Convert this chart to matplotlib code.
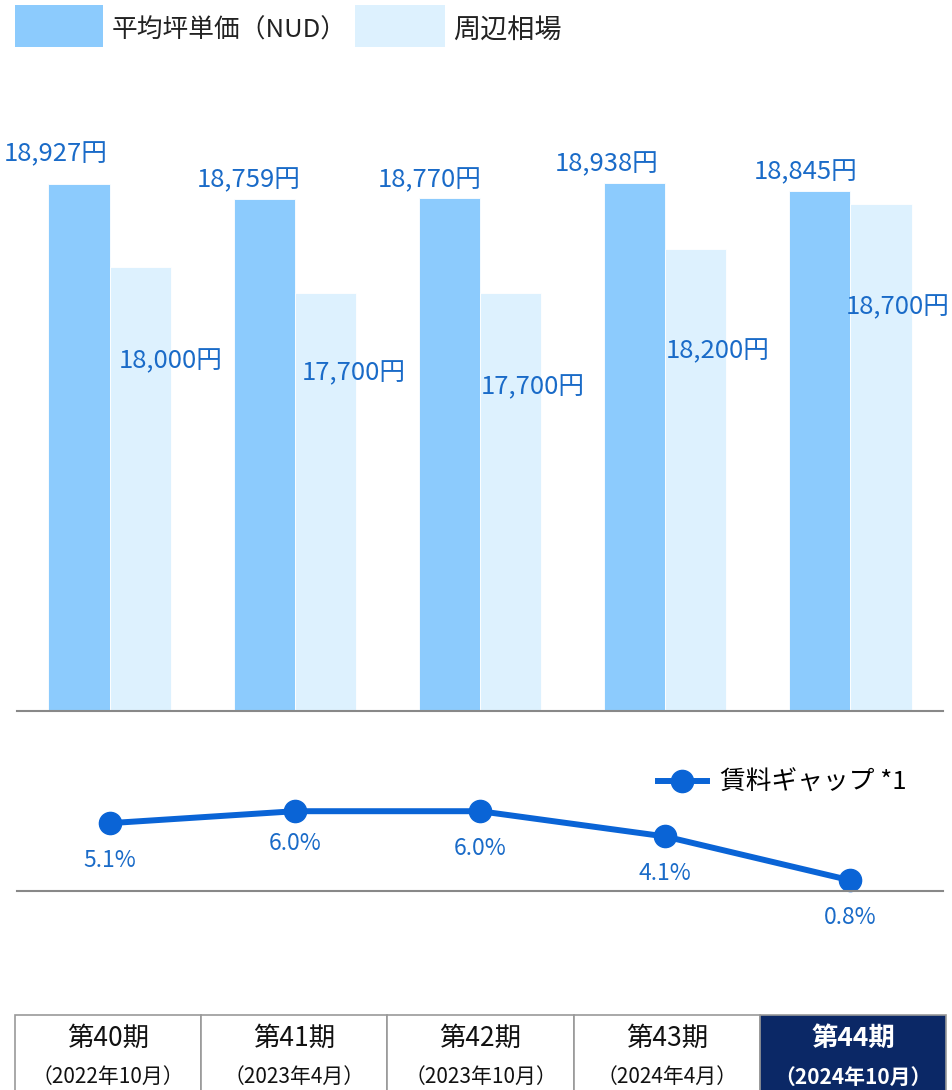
import matplotlib
matplotlib.use("Agg")
import matplotlib.pyplot as plt
from matplotlib.patches import Rectangle
import numpy as np

plt.rcParams['font.family'] = ['Noto Sans CJK JP', 'DejaVu Sans']

# data
periods = ["第40期", "第41期", "第42期", "第43期", "第44期"]
dates = ["（2022年10月）", "（2023年4月）", "（2023年10月）", "（2024年4月）", "（2024年10月）"]
nud_price = [18927, 18759, 18770, 18938, 18845]
market_price = [18000, 17700, 17700, 18200, 18700]
rent_gap = [5.1, 6.0, 6.0, 4.1, 0.8]

DARK = "#8ccbfd"
LIGHT = "#ddf1fe"
LABEL_BLUE = "#1a6bc8"
LINE_BLUE = "#0a64d6"
NAVY = "#0b2866"
W, H = 952, 1090

fig = plt.figure(figsize=(W / 100, H / 100), dpi=100)

def fx(px):
    return px / W

def fy(py):
    return 1 - py / H

x = np.arange(len(periods))
bw = 0.33

# label nudges (points), as laid out in the original
nud_off = [(-16.5, 21.5), (-11, 13.7), (-14.4, 13), (-20, 13.7), (-10, 13.7)]
mkt_off = [(0, -68), (-1.5, -58), (-6, -68), (-6.5, -74), (-10, -74)]
gap_off = [-27, -23, -27, -27, -27]

# bar chart
ax = fig.add_axes([fx(17), fy(711), fx(926), fy(130) - fy(711)])
ax.bar(x - bw / 2, nud_price, width=bw, color=DARK, edgecolor="white", linewidth=0.6)
ax.bar(x + bw / 2, market_price, width=bw, color=LIGHT, edgecolor="white", linewidth=0.6)
ax.set_xlim(-0.5, 4.5)
ax.set_ylim(13000, 19536)
for s in ["top", "right", "left"]:
    ax.spines[s].set_visible(False)
ax.spines["bottom"].set_color("#888888")
ax.spines["bottom"].set_linewidth(1.5)
ax.set_xticks([])
ax.set_yticks([])

for i, v in enumerate(nud_price):
    ax.annotate(f"{v:,}円", (i - bw / 2, v), xytext=nud_off[i], textcoords="offset points",
                ha="center", va="center", fontsize=18.5, color=LABEL_BLUE)
for i, v in enumerate(market_price):
    ax.annotate(f"{v:,}円", (i + bw, v), xytext=mkt_off[i], textcoords="offset points",
                ha="center", va="center", fontsize=18.5, color=LABEL_BLUE)

# legend for bars
fig.add_artist(Rectangle((fx(15), fy(47)), fx(88), fy(5) - fy(47), transform=fig.transFigure,
                         color=DARK, lw=0))
fig.text(fx(112), fy(31), "平均坪単価（NUD）", fontsize=18.5, va="center", ha="left", color="#222222")
fig.add_artist(Rectangle((fx(355), fy(47)), fx(90), fy(5) - fy(47), transform=fig.transFigure,
                         color=LIGHT, lw=0))
fig.text(fx(453), fy(31), "周辺相場", fontsize=19.5, va="center", ha="left", color="#222222")

# line chart
ax2 = fig.add_axes([fx(17), fy(891), fx(926), fy(760) - fy(891)])
ax2.plot(x, rent_gap, color=LINE_BLUE, lw=4.3, marker="o", markersize=16,
         label="賃料ギャップ *1", clip_on=False)
ax2.set_xlim(-0.5, 4.5)
ax2.set_ylim(0, 9.85)
for s in ["top", "right", "left"]:
    ax2.spines[s].set_visible(False)
ax2.spines["bottom"].set_color("#888888")
ax2.spines["bottom"].set_linewidth(1.5)
ax2.set_xticks([])
ax2.set_yticks([])
for i, v in enumerate(rent_gap):
    ax2.annotate(f"{v:.1f}%", (i, v), xytext=(0, gap_off[i]), textcoords="offset points",
                 ha="center", va="center", fontsize=16.5, color=LABEL_BLUE)
ax2.legend(loc="center left", bbox_to_anchor=(fx(658 - 17) / fx(926), 1 - (783 - 760) / 131),
           frameon=False, fontsize=18.5, handlelength=1.9, handletextpad=0.5,
           borderaxespad=0, borderpad=0)

# period table
ax3 = fig.add_axes([fx(15), 0, fx(931), fy(1015)])
ax3.set_xlim(0, len(periods))
ax3.set_ylim(0, 1)
ax3.axis("off")
for i, (p, d) in enumerate(zip(periods, dates)):
    last = i == len(periods) - 1
    ax3.add_patch(Rectangle((i, -0.2), 1, 1.2, facecolor=NAVY if last else "white",
                            edgecolor="#999999", lw=1.2, clip_on=False))
    col = "white" if last else "#111111"
    wt = "bold" if last else "normal"
    ax3.text(i + 0.5, 0.69, p, ha="center", va="center", fontsize=19, color=col, fontweight=wt)
    ax3.text(i + 0.5, 0.17, d, ha="center", va="center", fontsize=15, color=col, fontweight=wt)

fig.savefig("out.png", dpi=100)
